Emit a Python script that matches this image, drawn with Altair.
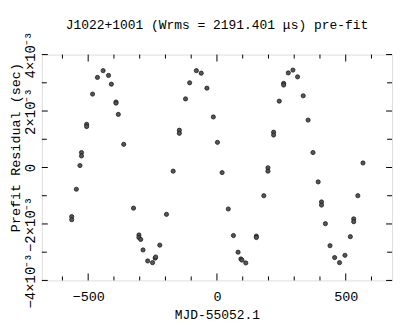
import altair as alt
import pandas as pd

# MJD-55052.1 (days)
mjd = [-564, -564, -546, -532, -526, -526, -506, -506, -483, -464, -442, -421, -410,
       -392, -392, -383, -362, -324, -303, -303, -296, -287, -269, -250, -240, -238,
       -222, -196, -170, -146, -146, -122, -106, -80, -61, -39, -14, 2, 20, 44, 64,
       82, 93, 97, 112, 153, 153, 182, 198, 198, 220, 220, 242, 259, 259, 277, 295,
       313, 335, 354, 373, 393, 406, 406, 421, 439, 457, 476, 497, 518, 531, 531,
       547, 567]
# prefit residual in units of 1e-3 s
resid_ms = [-1.74, -1.85, -0.77, 0.07, 0.53, 0.41, 1.53, 1.45, 2.60, 3.19, 3.43, 3.26,
            2.95, 2.32, 2.28, 1.88, 0.82, -1.44, -2.39, -2.48, -2.55, -2.92, -3.31,
            -3.37, -3.21, -3.17, -2.75, -1.66, -0.13, 1.32, 1.21, 2.43, 3.00, 3.43,
            3.34, 2.81, 1.79, 0.89, -0.18, -1.47, -2.41, -3.00, -3.24, -3.28, -3.38,
            -2.43, -2.48, -1.00, -0.01, -0.13, 1.25, 1.15, 2.35, 2.98, 2.92, 3.35,
            3.45, 3.21, 2.54, 1.68, 0.53, -0.51, -1.22, -1.33, -1.99, -2.77, -3.19,
            -3.37, -3.11, -2.45, -1.82, -1.92, -1.00, 0.16]

x_major = [-500, 0, 500]
x_minor = [-600, -400, -300, -200, -100, 100, 200, 300, 400, 600]
y_major = [-0.004, -0.002, 0.0, 0.002, 0.004]
y_minor = [-0.003, -0.001, 0.001, 0.003]

title_text = "J1022+1001 (Wrms = 2191.401 \u03bcs) pre-fit"
x_title = "MJD-55052.1"
y_title = "Prefit Residual (sec)"

W, H = 352, 227
FONT = "Liberation Mono"

df = pd.DataFrame({"x": mjd, "y": [v * 1e-3 for v in resid_ms]})

xs = alt.Scale(domain=[-680, 680], nice=False, zero=False)
ys = alt.Scale(domain=[-0.004, 0.004], nice=False, zero=False)

ylabel_expr = ("datum.value == 0 ? '0' : (datum.value < 0 ? '\u2212' : '') + "
               "format(round(abs(datum.value) * 1000), 'd') + '\u00d710\u207b\u00b3'")

points = alt.Chart(df).mark_point(
    shape="circle", filled=True, size=18, color="#555", stroke="#111",
    strokeWidth=0.7, opacity=1
).encode(
    x=alt.X("x:Q", scale=xs, axis=alt.Axis(
        values=x_major, ticks=False, domain=False, grid=False,
        labelFont=FONT, labelFontSize=13.5, labelColor="black", labelPadding=9,
        title=x_title, titleFont=FONT, titleFontSize=13, titleFontWeight="normal",
        titleColor="black", titleBaseline="alphabetic", titleY=38)),
    y=alt.Y("y:Q", scale=ys, axis=alt.Axis(
        values=y_major, ticks=False, domain=False, grid=False,
        labelExpr=ylabel_expr, labelAngle=270, labelAlign="center",
        labelBaseline="alphabetic", labelFont=FONT, labelFontSize=14,
        labelColor="black", labelPadding=7,
        title=y_title, titleFont=FONT, titleFontSize=13.5, titleFontWeight="normal",
        titleColor="black", titleAngle=270, titleBaseline="alphabetic",
        titleX=-22, titleY=93)),
)


def xticks(vals, length):
    d = pd.DataFrame({"x": vals})
    base = alt.Chart(d).mark_rule(color="black", strokeWidth=1)
    bottom = base.encode(x=alt.X("x:Q", scale=xs),
                         y=alt.value(H), y2=alt.value(H - length))
    top = base.encode(x=alt.X("x:Q", scale=xs),
                      y=alt.value(0), y2=alt.value(length))
    return [bottom, top]


def yticks(vals, length):
    d = pd.DataFrame({"y": vals})
    base = alt.Chart(d).mark_rule(color="black", strokeWidth=1)
    left = base.encode(y=alt.Y("y:Q", scale=ys),
                       x=alt.value(0), x2=alt.value(length))
    right = base.encode(y=alt.Y("y:Q", scale=ys),
                        x=alt.value(W), x2=alt.value(W - length))
    return [left, right]


layers = [points] + xticks(x_major, 7) + xticks(x_minor, 4) + yticks(y_major, 6) + yticks(y_minor, 5)

chart = alt.layer(*layers).properties(
    width=W, height=H,
    title=alt.TitleParams(title_text, font=FONT, fontSize=13, fontWeight="normal",
                          color="black", anchor="middle", baseline="alphabetic",
                          frame="group", offset=5, dy=16),
    autosize=alt.AutoSizeParams(type="none"),
    padding={"left": 34, "top": 46, "right": 15, "bottom": 45},
).configure_view(stroke="black", strokeWidth=1).configure(background="white")

chart.save("out.html", embed_options={"renderer": "svg", "actions": False})
